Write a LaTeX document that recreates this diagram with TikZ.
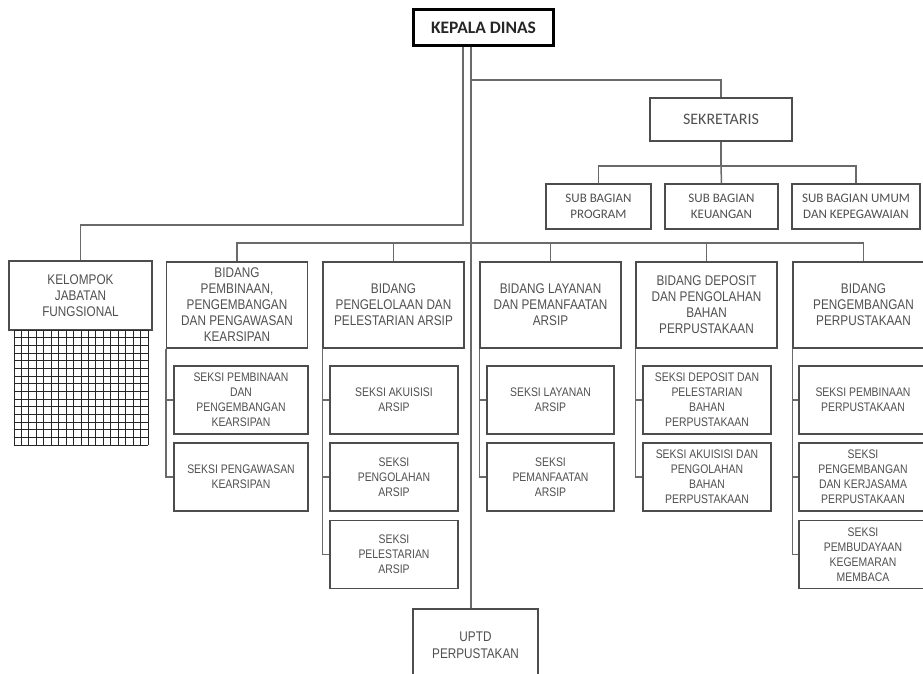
\documentclass[tikz,border=0pt]{standalone}
\usepackage{fontspec}
\setmainfont[FakeStretch=0.84]{Liberation Sans}
\newfontfamily\calibfont{Carlito}
\usepackage{tikz}
\usetikzlibrary{positioning,calc}
\definecolor{boxline}{HTML}{4D4D4D}
\definecolor{linegray}{HTML}{6A6A6A}
\definecolor{txtgray}{HTML}{505050}

\begin{document}
\begin{tikzpicture}[x=1pt,y=-1pt,
  unit/.style={draw=boxline,line width=1.1pt,align=center,inner sep=1pt,text=txtgray,fill=white},
  bigfont/.style={font=\fontsize{14}{16}\selectfont},
  bidang/.style={unit,bigfont,minimum width=141pt,minimum height=86pt},
  seksi/.style={unit,font=\fontsize{12.4}{15}\selectfont,minimum width=128pt,minimum height=68pt},
  subbag/.style={unit,font=\calibfont\fontsize{13}{15.5}\selectfont,minimum height=45pt},
  link/.style={draw=linegray,line width=1.5pt},
  gridline/.style={draw=black!85,line width=1pt}]
\useasboundingbox (0,0) rectangle (923,674);
\clip (0,0) rectangle (923,674);

\coordinate (trunkL) at (463,47);
\coordinate (trunkR) at (471,47);
\coordinate (kjoin) at (463,225);
\coordinate (sjoin) at (471,80);
\coordinate (subbus) at (721,166);
\coordinate (bidbus) at (471,243);

\node[draw=black,line width=3pt,minimum width=140pt,minimum height=36pt,text=black!85,font=\calibfont\bfseries\fontsize{17.5}{20}\selectfont] (kepala) at (483.5,27.5) {KEPALA DINAS};
\node[unit,minimum width=142pt,minimum height=43pt,font=\calibfont\fontsize{16}{18}\selectfont] (sekretaris) at (721,119.5) {SEKRETARIS};
\node[subbag,minimum width=105pt] (subprog) at (598.5,206.5) {SUB BAGIAN\\PROGRAM};
\node[subbag,minimum width=113pt] (subkeu) at (721.5,206.5) {SUB BAGIAN\\KEUANGAN};
\node[subbag,minimum width=128pt] (subumum) at (856,206.5) {SUB BAGIAN UMUM\\DAN KEPEGAWAIAN};

\node[unit,bigfont,minimum width=143pt,minimum height=69pt] (kelompok) at (80.5,295.5) {KELOMPOK\\JABATAN\\FUNGSIONAL};
\node[bidang] (bid1) at (237,305) {BIDANG\\PEMBINAAN,\\PENGEMBANGAN\\DAN PENGAWASAN\\KEARSIPAN};
\node[bidang] (bid2) at (393.5,305) {BIDANG\\PENGELOLAAN DAN\\PELESTARIAN ARSIP};
\node[bidang] (bid3) at (550.5,305) {BIDANG LAYANAN\\DAN PEMANFAATAN\\ARSIP};
\node[bidang] (bid4) at (706.5,305) {BIDANG DEPOSIT\\DAN PENGOLAHAN\\BAHAN\\PERPUSTAKAAN};
\node[bidang] (bid5) at (863.5,305) {BIDANG\\PENGEMBANGAN\\PERPUSTAKAAN};

\node[seksi,minimum width=134pt] (s11) at (241,400) {SEKSI PEMBINAAN\\DAN\\PENGEMBANGAN\\KEARSIPAN};
\node[seksi,minimum width=134pt] (s12) at (241,477) {SEKSI PENGAWASAN\\KEARSIPAN};
\node[seksi] (s21) at (394,400) {SEKSI AKUISISI\\ARSIP};
\node[seksi] (s22) at (394,477) {SEKSI\\PENGOLAHAN\\ARSIP};
\node[seksi] (s23) at (394,554.5) {SEKSI\\PELESTARIAN\\ARSIP};
\node[seksi,minimum width=127pt] (s31) at (550.5,400) {SEKSI LAYANAN\\ARSIP};
\node[seksi,minimum width=127pt] (s32) at (550.5,477) {SEKSI\\PEMANFAATAN\\ARSIP};
\node[seksi] (s41) at (707,400) {SEKSI DEPOSIT DAN\\PELESTARIAN\\BAHAN\\PERPUSTAKAAN};
\node[seksi] (s42) at (707,477) {SEKSI AKUISISI DAN\\PENGOLAHAN\\BAHAN\\PERPUSTAKAAN};
\node[seksi] (s51) at (863,400) {SEKSI PEMBINAAN\\PERPUSTAKAAN};
\node[seksi] (s52) at (863,477) {SEKSI\\PENGEMBANGAN\\DAN KERJASAMA\\PERPUSTAKAAN};
\node[seksi] (s53) at (863,554.5) {SEKSI\\PEMBUDAYAAN\\KEGEMARAN\\MEMBACA};

\node[unit,font=\fontsize{14}{17.5}\selectfont,minimum width=125pt,minimum height=72pt] (uptd) at (475.5,645) {UPTD\\PERPUSTAKAN};

\foreach \i in {0,...,18}
  \draw[gridline] ({14+\i*134/18},330) -- ({14+\i*134/18},445);
\foreach \j in {0,...,15}
  \draw[gridline] (14,{330+\j*115/15}) -- (148,{330+\j*115/15});

\draw[link] (trunkR) -- (trunkR |- uptd.north);
\draw[link] (trunkL) -- (kjoin) -| (kelompok.north);
\draw[link] (sjoin) -| (sekretaris.north);
\draw[link] (sekretaris.south) -- (subbus);
\draw[link] (subprog.north) |- (subbus) -| (subumum.north);
\draw[link] (subbus) -- (subkeu.north);
\draw[link] (bid1.north) |- (bidbus) -| (bid5.north);
\foreach \b in {bid2,bid3,bid4}
  \draw[link] (\b.north) -- (\b.north |- bidbus);
\foreach \b/\s in {bid1/s11,bid1/s12,bid2/s21,bid2/s22,bid2/s23,bid3/s31,bid3/s32,bid4/s41,bid4/s42,bid5/s51,bid5/s52,bid5/s53}
  \draw[link] (\b.south west) |- (\s.west);
\end{tikzpicture}
\end{document}
